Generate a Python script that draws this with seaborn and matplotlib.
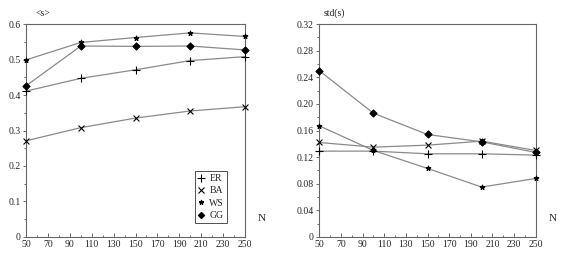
import numpy as np
import pandas as pd
import seaborn as sns
import matplotlib
matplotlib.use("Agg")
import matplotlib.pyplot as plt
from matplotlib.ticker import MultipleLocator

N = [50, 100, 150, 200, 250]
models = ["ER", "BA", "WS", "GG"]

# mean <s>
mean_er = [0.411, 0.447, 0.471, 0.497, 0.508]
mean_ba = [0.271, 0.308, 0.335, 0.355, 0.367]
mean_ws = [0.499, 0.548, 0.562, 0.575, 0.565]
mean_gg = [0.426, 0.538, 0.537, 0.538, 0.527]

# std(s)
std_er = [0.129, 0.129, 0.125, 0.125, 0.123]
std_ba = [0.142, 0.135, 0.138, 0.144, 0.130]
std_ws = [0.167, 0.130, 0.103, 0.075, 0.088]
std_gg = [0.250, 0.186, 0.154, 0.143, 0.127]

xticks = [50, 70, 90, 110, 130, 150, 170, 190, 210, 230, 250]
mean_ticks = [0, 0.1, 0.2, 0.3, 0.4, 0.5, 0.6]
mean_ticklabels = ["0", "0.1", "0.2", "0.3", "0.4", "0.5", "0.6"]
std_ticks = [0, 0.04, 0.08, 0.12, 0.16, 0.20, 0.24, 0.28, 0.32]
std_ticklabels = ["0", "0.04", "0.08", "0.12", "0.16", "0.20", "0.24", "0.28", "0.32"]


def make_df(er, ba, ws, gg):
    rows = []
    for m, vals in zip(models, [er, ba, ws, gg]):
        for n, v in zip(N, vals):
            rows.append({"N": n, "value": v, "model": m})
    return pd.DataFrame(rows)


df_mean = make_df(mean_er, mean_ba, mean_ws, mean_gg)
df_std = make_df(std_er, std_ba, std_ws, std_gg)

sns.set_style("ticks")
plt.rcParams["font.family"] = ["Liberation Serif", "DejaVu Serif"]

marker_map = {"ER": "+", "BA": "x", "WS": "*", "GG": "D"}
size_map = {"ER": 32, "BA": 18, "WS": 12, "GG": 13}
line_pal = {m: "#8a8a8a" for m in models}

fig = plt.figure(figsize=(5.67, 2.61), dpi=100)
ax1 = fig.add_axes([0.046, 0.092, 0.386, 0.816])
ax2 = fig.add_axes([0.563, 0.092, 0.382, 0.816])


def draw(ax, df, ticks, ticklabels, ylab, ylim, yminor):
    sns.lineplot(data=df, x="N", y="value", hue="model", palette=line_pal,
                 linewidth=0.9, legend=False, ax=ax)
    for m in models:
        sub = df[df["model"] == m]
        sns.scatterplot(data=sub, x="N", y="value", marker=marker_map[m],
                        color="black", s=size_map[m], linewidth=0.8,
                        edgecolor="black" if marker_map[m] in ("D", "*") else None,
                        legend=False, ax=ax, zorder=3, clip_on=False)
    ax.set_xlim(50, 250)
    ax.set_ylim(*ylim)
    ax.set_xticks(xticks)
    ax.set_xticklabels([str(t) for t in xticks], fontsize=7)
    ax.xaxis.set_minor_locator(MultipleLocator(10))
    ax.set_yticks(ticks)
    ax.set_yticklabels(ticklabels, fontsize=7)
    ax.yaxis.set_minor_locator(MultipleLocator(yminor))
    ax.tick_params(axis="x", which="major", direction="in", length=3,
                   width=0.6, pad=2, color="#555555")
    ax.tick_params(axis="x", which="minor", direction="in", length=1.8,
                   width=0.6, color="#555555")
    ax.tick_params(axis="y", which="major", direction="out", length=2.5,
                   width=0.6, pad=1.5, color="#555555")
    ax.tick_params(axis="y", which="minor", direction="out", length=1.5,
                   width=0.6, color="#555555")
    ax.set_xlabel("")
    ax.set_ylabel("")
    for sp in ax.spines.values():
        sp.set_visible(True)
        sp.set_linewidth(0.8)
        sp.set_color("#666666")
    ax.text(0.045, 1.03, ylab, transform=ax.transAxes, fontsize=7,
            ha="left", va="bottom")
    ax.text(1.06, 0.085, "N", transform=ax.transAxes, fontsize=8,
            ha="left", va="center")


draw(ax1, df_mean, mean_ticks, mean_ticklabels, "<s>", (0, 0.6), 0.05)
draw(ax2, df_std, std_ticks, std_ticklabels, "std(s)", (0, 0.32), 0.02)
ax2.texts[0].set_x(0.02)

handles = []
for m in models:
    h = plt.Line2D([], [], linestyle="none", marker=marker_map[m], color="black",
                   markersize={"ER": 5.5, "BA": 4, "WS": 3.5, "GG": 3.2}[m],
                   markeredgewidth=0.8)
    handles.append(h)
leg = ax1.legend(handles, models, loc="lower left", bbox_to_anchor=(0.77, 0.065),
                 frameon=True, fontsize=7, handlelength=0.8, handletextpad=0.4,
                 borderpad=0.3, labelspacing=0.35, fancybox=False,
                 borderaxespad=0)
leg.get_frame().set_edgecolor("black")
leg.get_frame().set_linewidth(0.6)

fig.savefig("out.png", dpi=100)
